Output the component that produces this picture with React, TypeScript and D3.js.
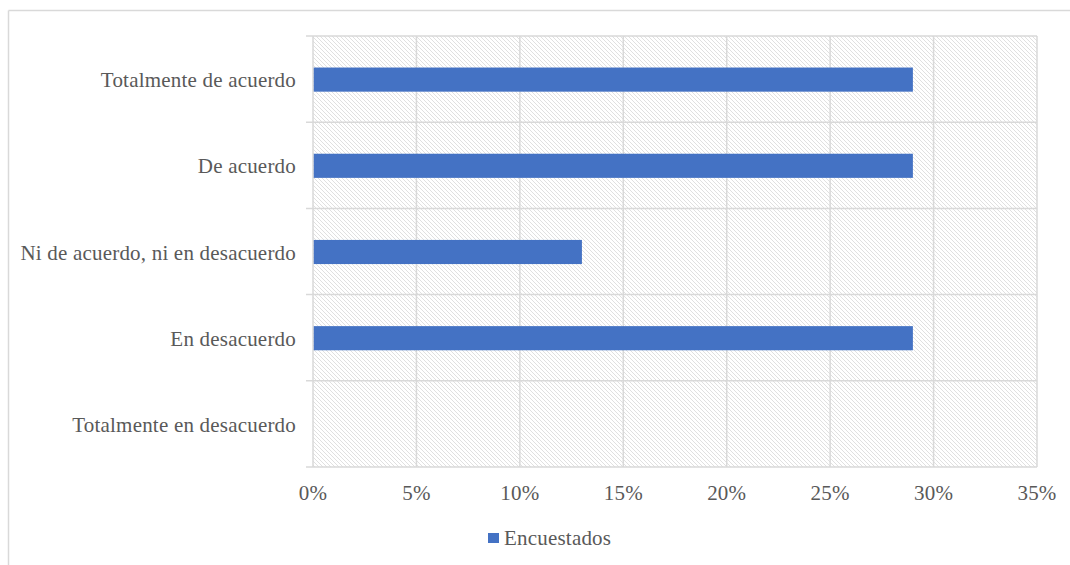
import React from "react";
import * as d3 from "d3";

const categories = [
  "Totalmente de acuerdo",
  "De acuerdo",
  "Ni de acuerdo, ni en desacuerdo",
  "En desacuerdo",
  "Totalmente en desacuerdo",
];
const values = [0.29, 0.29, 0.13, 0.29, 0];
const xTicks = [0, 0.05, 0.1, 0.15, 0.2, 0.25, 0.3, 0.35];
const seriesName = "Encuestados";

const W = 1070;
const H = 565;
const left = 313;
const right = 1037;
const top = 36;
const bottom = 467;
const grid = "#d9d9d9";
const textColor = "#595959";
const barColor = "#4472c4";
const font = '"Liberation Serif", "Times New Roman", Times, "DejaVu Serif", serif';

export default function App() {
  const x = d3.scaleLinear().domain([0, 0.35]).range([left, right]);
  const y = d3.scaleBand<string>().domain(categories).range([top, bottom]).paddingInner(0).paddingOuter(0);
  const bw = y.bandwidth();
  const barH = bw * 0.28;
  const fmt = d3.format(".0%");
  const boundaries = d3.range(categories.length + 1).map((i) => top + i * bw);
  const textStyle = {
    fontFamily: font,
    fontSize: "21px",
    fill: textColor,
    letterSpacing: "0.2px",
  } as React.CSSProperties;

  return (
    <svg width={W} height={H} style={{ position: "absolute", left: 0, top: 0, background: "#fff" }}>
      <defs>
        <pattern id="hatch" patternUnits="userSpaceOnUse" width={4} height={4}>
          <rect width={4} height={4} fill="#fff" />
          <path d="M-1,-1 L5,5 M-1,3 L1,5 M3,-1 L5,1" stroke="#e0e0e0" strokeWidth={1} />
        </pattern>
      </defs>
      {/* outer frame */}
      <line x1={8.5} x2={W} y1={10.5} y2={10.5} stroke={grid} strokeWidth={1.5} />
      <line x1={8.5} x2={8.5} y1={10.5} y2={H} stroke={grid} strokeWidth={1.5} />
      {/* plot area */}
      <rect x={left} y={top} width={right - left} height={bottom - top} fill="url(#hatch)" />
      {xTicks.map((t) => (
        <line key={t} x1={x(t)} x2={x(t)} y1={top} y2={bottom} stroke={grid} strokeWidth={1.5} />
      ))}
      {boundaries.map((b, i) => (
        <line key={i} x1={left - 7} x2={right} y1={b} y2={b} stroke={grid} strokeWidth={1.5} />
      ))}
      {/* bars */}
      {categories.map((c, i) =>
        values[i] > 0 ? (
          <rect
            key={c}
            x={x(0) + 0.75}
            y={(y(c) as number) + bw / 2 - barH / 2 + 0.5}
            width={x(values[i]) - x(0) - 0.75}
            height={barH}
            fill={barColor}
          />
        ) : null
      )}
      {/* category labels */}
      {categories.map((c) => (
        <text key={c} x={296} y={(y(c) as number) + bw / 2 + 8} textAnchor="end" style={textStyle}>
          {c}
        </text>
      ))}
      {/* x tick labels */}
      {xTicks.map((t) => (
        <text key={t} x={x(t)} y={500} textAnchor="middle" style={textStyle}>
          {fmt(t)}
        </text>
      ))}
      {/* legend */}
      <rect x={488} y={533} width={11} height={10} fill={barColor} />
      <text x={504} y={545} style={textStyle}>
        {seriesName}
      </text>
    </svg>
  );
}
